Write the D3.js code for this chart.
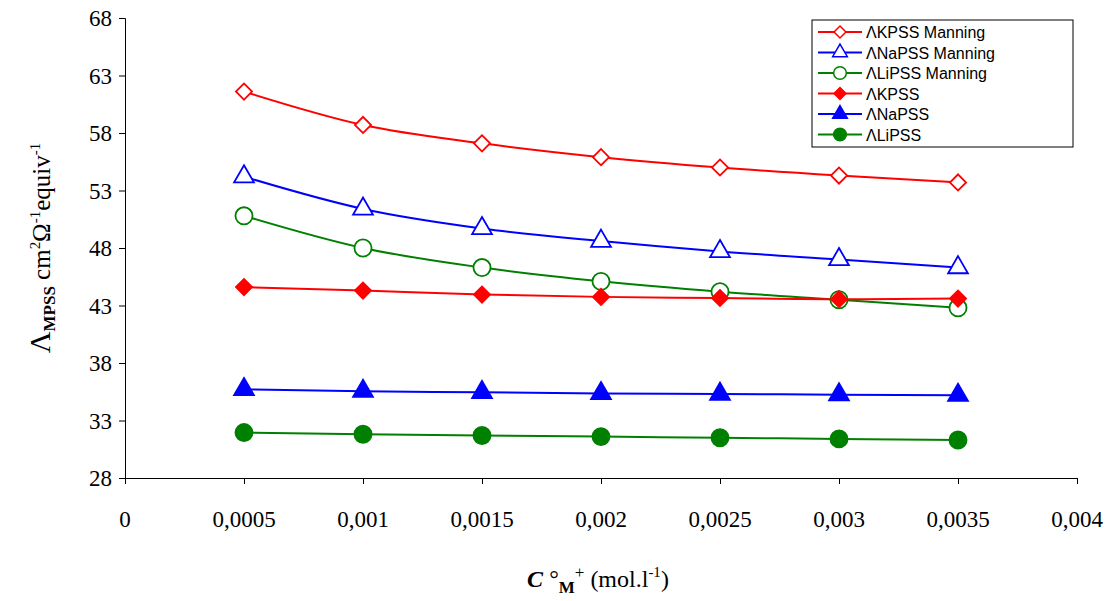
<!DOCTYPE html>
<html><head><meta charset="utf-8">
<script src="https://cdn.jsdelivr.net/npm/d3@7"></script>
<style>body{margin:0;background:#fff}</style>
</head><body><div id="chart"></div>
<script>
const xValues = [0.0005, 0.001, 0.0015, 0.002, 0.0025, 0.003, 0.0035];
const kManning = [61.6, 58.7, 57.1, 55.9, 55.0, 54.3, 53.7];
const naManning = [54.2, 51.4, 49.7, 48.6, 47.7, 47.0, 46.3];
const liManning = [50.8, 48.0, 46.3, 45.1, 44.2, 43.5, 42.8];
const kPSS = [44.6, 44.3, 43.95, 43.75, 43.65, 43.55, 43.6];
const naPSS = [35.7, 35.55, 35.45, 35.35, 35.3, 35.25, 35.2];
const liPSS = [31.95, 31.8, 31.7, 31.6, 31.5, 31.4, 31.3];
const xTicks = [0, 0.0005, 0.001, 0.0015, 0.002, 0.0025, 0.003, 0.0035, 0.004];
const xTickLabels = ["0", "0,0005", "0,001", "0,0015", "0,002", "0,0025", "0,003", "0,0035", "0,004"];
const yTicks = [28, 33, 38, 43, 48, 53, 58, 63, 68];

const series = [
  {name: "ΛKPSS Manning", values: kManning, color: "#ff0000", shape: "diamond", fill: false},
  {name: "ΛNaPSS Manning", values: naManning, color: "#0000ff", shape: "triangle", fill: false},
  {name: "ΛLiPSS Manning", values: liManning, color: "#008000", shape: "circle", fill: false},
  {name: "ΛKPSS", values: kPSS, color: "#ff0000", shape: "diamond", fill: true},
  {name: "ΛNaPSS", values: naPSS, color: "#0000ff", shape: "triangle", fill: true},
  {name: "ΛLiPSS", values: liPSS, color: "#008000", shape: "circle", fill: true}
];

const W = 1115, H = 601;
const serif = "Liberation Serif";
const svg = d3.select("#chart").append("svg").attr("width", W).attr("height", H)
  .attr("font-family", serif);
const x = d3.scaleLinear().domain([0, 0.004]).range([125, 1077]);
const y = d3.scaleLinear().domain([28, 68]).range([478, 18]);

const yAxis = svg.append("g").attr("transform", "translate(125,0)")
  .call(d3.axisLeft(y).tickValues(yTicks).tickSize(6).tickFormat(""));
const xAxis = svg.append("g").attr("transform", "translate(0,478)")
  .call(d3.axisBottom(x).tickValues(xTicks).tickSize(6).tickFormat(""));
[xAxis, yAxis].forEach(a => a.select(".domain").attr("stroke", "#000"));

// tick labels as plain text
svg.append("g").selectAll("text").data(xTicks).enter().append("text")
  .attr("x", d => x(d)).attr("y", 527).attr("text-anchor", "middle")
  .attr("font-family", serif).attr("font-size", 23).text((d, i) => xTickLabels[i]);
svg.append("g").selectAll("text").data(yTicks).enter().append("text")
  .attr("x", 112).attr("y", d => y(d) + 8).attr("text-anchor", "end")
  .attr("font-family", serif).attr("font-size", 23).text(d => d);

// diamonds drawn as squares turned 45 degrees
const sym = {diamond: d3.symbolSquare, triangle: d3.symbolTriangle, circle: d3.symbolCircle};
const size = {diamond: 130, triangle: 170, circle: 230};
const rot = s => s.shape === "diamond" ? " rotate(45)" : "";
const line = d3.line().x((d, i) => x(xValues[i])).y(d => y(d)).curve(d3.curveMonotoneX);

series.forEach(s => {
  svg.append("path").datum(s.values).attr("d", line)
    .attr("fill", "none").attr("stroke", s.color).attr("stroke-width", 2);
  svg.selectAll(null).data(s.values).enter().append("path")
    .attr("d", d3.symbol().type(sym[s.shape]).size(size[s.shape]))
    .attr("transform", (d, i) => `translate(${x(xValues[i])},${y(d)})` + rot(s))
    .attr("fill", s.fill ? s.color : "#fff").attr("stroke", s.color).attr("stroke-width", 1.8);
});

// legend
const lg = svg.append("g").attr("transform", "translate(812,20)");
lg.append("rect").attr("width", 261).attr("height", 127).attr("fill", "#fff").attr("stroke", "#000");
series.forEach((s, i) => {
  const yy = 12 + i * 20.5;
  lg.append("line").attr("x1", 6).attr("x2", 50).attr("y1", yy).attr("y2", yy).attr("stroke", s.color).attr("stroke-width", 2);
  lg.append("path").attr("d", d3.symbol().type(sym[s.shape]).size(size[s.shape] * 0.55))
    .attr("transform", `translate(28,${yy})` + rot(s)).attr("fill", s.fill ? s.color : "#fff").attr("stroke", s.color).attr("stroke-width", 1.5);
  lg.append("text").attr("x", 54).attr("y", yy + 6).attr("font-size", 16)
    .attr("font-family", "Liberation Sans").text(s.name);
});

// axis titles
svg.append("text").attr("transform", "translate(50,248) rotate(-90)").attr("text-anchor", "middle").attr("font-size", 25)
  .html('<tspan font-size="30">Λ</tspan><tspan font-size="17" font-weight="bold" dy="5">MPSS</tspan><tspan dy="-5"> cm</tspan><tspan font-size="15" dy="-10">2</tspan><tspan dy="10">Ω</tspan><tspan font-size="15" dy="-10">-1</tspan><tspan dy="10">equiv</tspan><tspan font-size="15" dy="-10">-1</tspan>');
svg.append("text").attr("x", 598).attr("y", 587).attr("text-anchor", "middle").attr("font-size", 24)
  .html('<tspan font-style="italic" font-weight="bold">C</tspan><tspan> °</tspan><tspan font-size="17" font-weight="bold" dy="6">M</tspan><tspan font-size="17" dy="-15">+</tspan><tspan dy="9"> (mol.l</tspan><tspan font-size="15" dy="-10">-1</tspan><tspan dy="10">)</tspan>');
</script></body></html>
